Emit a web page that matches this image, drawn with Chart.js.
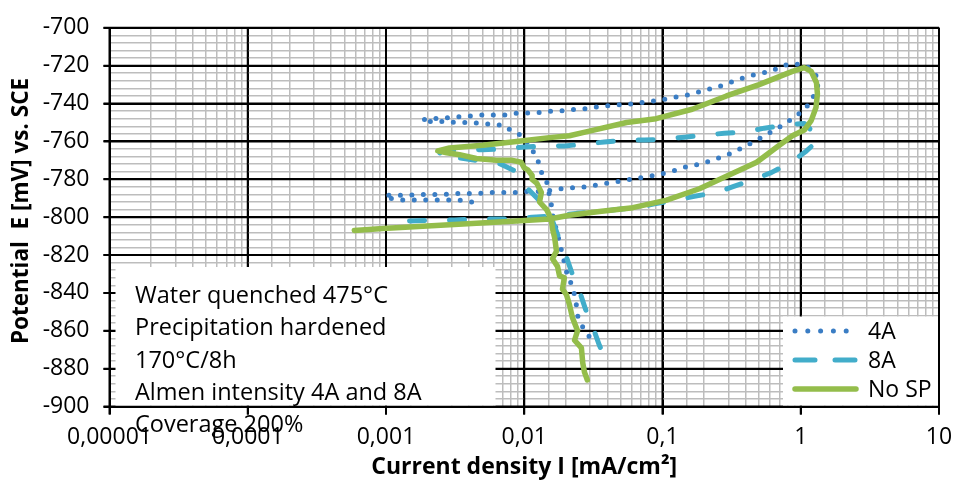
<!DOCTYPE html>
<html>
<head>
<meta charset="utf-8">
<script src="https://cdn.jsdelivr.net/npm/chart.js@4.4.0/dist/chart.umd.min.js"></script>
<style>
  html, body { margin: 0; padding: 0; background: #fff; }
  #wrap { width: 954px; height: 482px; position: relative; }
</style>
</head>
<body>
<div id="wrap"><canvas id="myChart"></canvas></div>
<script>
// current density I [mA/cm2], potential E [mV vs SCE] pairs, in scan order
const series4A = [
  [0.00416,-792],[0.00341,-791],[0.00279,-791],[0.00232,-791],[0.0019,-791],[0.00156,-791],[0.0013,-791],
  [0.00106,-790],[0.00098,-788.5],[0.0012,-788.5],[0.00144,-788.5],[0.00175,-788],[0.00214,-788],[0.00261,-788],
  [0.00319,-787.5],[0.00389,-787.5],[0.00468,-787.5],[0.00571,-787],[0.00697,-787],[0.00837,-787],[0.0104,-786.5],
  [0.0125,-786.5],[0.0152,-786],[0.0186,-785],[0.0223,-784.5],[0.0273,-784],[0.0333,-783],[0.040,-782],
  [0.0488,-781],[0.0596,-780],[0.0716,-779],[0.0874,-778],[0.1067,-776.5],[0.128,-775],[0.154,-773],
  [0.188,-772],[0.226,-770],[0.271,-768],[0.32,-766],[0.384,-763],[0.461,-760],[0.545,-757],[0.643,-754],
  [0.76,-751],[0.898,-747],[1.06,-743.5],[1.19,-738.5],[1.3,-733],[1.36,-727.5],[1.25,-724],[1.10,-720],
  [0.898,-719],[0.73,-720],[0.612,-723],[0.510,-724],[0.418,-725.5],[0.348,-727.5],[0.29,-729.6],[0.241,-731.7],
  [0.201,-733],[0.164,-735],[0.137,-736],[0.114,-737],[0.0934,-738.5],[0.0765,-739],[0.0637,-740],[0.0513,-740.5],
  [0.0427,-741],[0.035,-741.6],[0.0287,-742.6],[0.0239,-743],[0.0196,-743.7],[0.016,-744],[0.0133,-744.7],
  [0.0109,-745],[0.00894,-745],[0.00745,-746],[0.0061,-746],[0.005,-746],[0.00416,-746.5],[0.00335,-747],
  [0.00275,-747.5],[0.00225,-748],[0.00184,-748.5],[0.00184,-749.5],[0.00225,-749.5],[0.0027,-749.5],
  [0.00327,-750],[0.00397,-750],[0.00485,-750.5],[0.00585,-751],[0.00722,-751.5],[0.00823,-755],[0.0098,-757],
  [0.0114,-764.6],[0.0125,-768.7],[0.0129,-775],[0.0145,-780],[0.0147,-785],[0.0157,-791],[0.0157,-796],
  [0.0174,-809],[0.0196,-824.5],[0.0204,-830],[0.0218,-835],[0.0231,-841],[0.0239,-847],[0.0243,-852],
  [0.0265,-858],[0.0301,-864]
];
const series8A = [
  [0.00148,-802],[0.00232,-801.5],[0.00314,-801.5],[0.0045,-801],[0.0061,-801],[0.0088,-801],[0.0114,-800],
  [0.0189,-799],[0.0239,-798],[0.0362,-797],[0.0464,-796],[0.0648,-795],[0.0874,-793],[0.126,-791],[0.170,-789],
  [0.245,-787],[0.32,-784],[0.461,-780],[0.612,-776.5],[0.854,-771],[1.10,-765],[1.36,-759],[1.27,-756],
  [1.06,-750.5],[0.76,-751.5],[0.545,-753],[0.39,-755],[0.28,-755.7],[0.20,-756.7],[0.144,-757.8],[0.103,-758.8],
  [0.074,-759.3],[0.053,-759.3],[0.038,-760.3],[0.0273,-761.4],[0.0196,-762.4],[0.0136,-762.5],[0.010,-763],
  [0.007,-764],[0.005,-764.4],[0.0035,-764.5],[0.0025,-765],[0.0024,-767.5],[0.00327,-768.5],[0.0045,-770],
  [0.0063,-771],[0.0085,-775.5],[0.0104,-784.4],[0.0145,-795],[0.016,-802],[0.0174,-809],[0.0196,-818.3],
  [0.022,-829],[0.0247,-837.6],[0.0277,-848.5],[0.0311,-857.4],[0.035,-867.8],[0.040,-877]
];
const seriesNoSP = [
  [0.0286,-886],[0.0273,-882],[0.0265,-877],[0.0259,-869],[0.0231,-865],[0.0243,-860],[0.0223,-853],
  [0.0212,-846],[0.0202,-841],[0.0189,-838],[0.0195,-832],[0.018,-831],[0.0174,-826],[0.016,-822],[0.0171,-818],
  [0.0166,-811],[0.016,-806],[0.0157,-801],[0.0145,-796],[0.0129,-792],[0.0133,-787],[0.0123,-782],[0.0114,-780],
  [0.0114,-778],[0.0106,-775],[0.0100,-774],[0.0095,-771],[0.0082,-770],[0.0063,-770],[0.0045,-769],[0.0034,-767],
  [0.00275,-766],[0.00237,-765],[0.00288,-763.5],[0.0050,-762],[0.0088,-760],[0.0152,-758],[0.0212,-757],
  [0.028,-755],[0.055,-750],[0.090,-748],[0.164,-743],[0.29,-736],[0.50,-730],[0.87,-723],[1.06,-721],
  [1.19,-723],[1.30,-729],[1.32,-735],[1.29,-742],[1.19,-749],[1.06,-754],[0.87,-757],[0.70,-762],[0.48,-771],
  [0.32,-777],[0.185,-785],[0.107,-791],[0.061,-795],[0.035,-797],[0.0212,-799],[0.0152,-801],[0.0088,-802],
  [0.00288,-804],[0.00095,-806],[0.00059,-807]
];
const seriesNames = ['4A', '8A', 'No SP'];
const xTickValues = [0.00001, 0.0001, 0.001, 0.01, 0.1, 1, 10];
const xTickLabels = ['0,00001', '0,0001', '0,001', '0,01', '0,1', '1', '10'];
const yMajorValues = [-900, -880, -860, -840, -820, -800, -780, -760, -740, -720, -700];
const noteLines = ['Water quenched 475°C', 'Precipitation hardened', '170°C/8h', 'Almen intensity 4A and 8A', 'Coverage 200%'];

const FONT = '"Open Sans", "Liberation Sans", sans-serif';
const toPts = arr => arr.map(p => ({ x: p[0], y: p[1] }));
const decadeIndex = v => xTickValues.findIndex(t => Math.abs(Math.log10(v) - Math.log10(t)) < 1e-6);
const isDecade = c => c.tick && decadeIndex(c.tick.value) >= 0;
const isMajorY = c => c.tick && Math.round(c.tick.value) % 20 === 0;

const legendDash = { '4A': [0, 12.8], '8A': [20, 20], 'No SP': [] };

const boxesPlugin = {
  id: 'boxes',
  beforeDatasetsDraw(chart) {
    const g = chart.ctx, ca = chart.chartArea;
    const xs = chart.scales.x, ys = chart.scales.y;
    g.save();
    // black major grid on top of the gray minor grid
    g.strokeStyle = '#000';
    g.lineWidth = 2;
    g.beginPath();
    xTickValues.forEach(v => {
      const px = xs.getPixelForValue(v);
      g.moveTo(px, ca.top); g.lineTo(px, ca.bottom + 8);
    });
    yMajorValues.forEach(v => {
      const py = ys.getPixelForValue(v);
      g.moveTo(ca.left - 6, py); g.lineTo(ca.right, py);
    });
    g.stroke();
    // note box
    g.fillStyle = '#fff';
    g.fillRect(ca.left + 6, 267, 380, ca.bottom - 267 - 1);
    g.fillStyle = '#000';
    g.font = '23.5px ' + FONT;
    g.textBaseline = 'alphabetic';
    noteLines.forEach((t, i) => g.fillText(t, 135, 303 + i * 32.3));
    // y axis title
    g.save();
    g.translate(22, 211);
    g.rotate(-Math.PI / 2);
    g.textAlign = 'center';
    g.textBaseline = 'middle';
    g.font = 'bold 22.5px ' + FONT;
    g.fillText('Potential  E [mV] vs. SCE', 0, 0);
    g.restore();
    g.restore();
  },
  afterDatasetsDraw(chart) {
    const g = chart.ctx, ca = chart.chartArea;
    g.save();
    g.fillStyle = '#fff';
    g.fillRect(ca.right - 156, ca.bottom - 90, 155, 89);
    const rows = [331, 360, 389];
    chart.data.datasets.forEach((ds, i) => {
      g.beginPath();
      g.strokeStyle = ds.borderColor;
      g.lineWidth = ds.borderWidth;
      g.lineCap = 'round';
      g.setLineDash(legendDash[ds.label]);
      g.moveTo(795, rows[i]);
      g.lineTo(856, rows[i]);
      g.stroke();
      g.setLineDash([]);
      g.fillStyle = '#000';
      g.font = '23px ' + FONT;
      g.textBaseline = 'middle';
      g.fillText(ds.label, 868, rows[i] + 1);
    });
    g.restore();
  }
};

const ctx = document.getElementById('myChart').getContext('2d');
const myChart = new Chart(ctx, {
  type: 'scatter',
  data: {
    datasets: [
      {
        label: seriesNames[0],
        data: toPts(series4A),
        showLine: true,
        borderColor: '#3a7dc4',
        borderWidth: 5,
        borderDash: [0, 11.5],
        borderCapStyle: 'round',
        borderJoinStyle: 'round',
        pointRadius: 0,
        order: 2
      },
      {
        label: seriesNames[1],
        data: toPts(series8A),
        showLine: true,
        borderColor: '#42adca',
        borderWidth: 5,
        borderDash: [15, 25],
        borderCapStyle: 'round',
        borderJoinStyle: 'round',
        pointRadius: 0,
        order: 1
      },
      {
        label: seriesNames[2],
        data: toPts(seriesNoSP),
        showLine: true,
        borderColor: '#94bd4b',
        borderWidth: 5.5,
        borderCapStyle: 'round',
        borderJoinStyle: 'round',
        pointRadius: 0,
        order: 0
      }
    ]
  },
  options: {
    responsive: true,
    maintainAspectRatio: false,
    animation: false,
    events: [],
    layout: { padding: { top: 23, right: 15, left: 0, bottom: 0 } },
    plugins: { legend: { display: false }, tooltip: { enabled: false } },
    scales: {
      x: {
        type: 'logarithmic',
        min: 0.00001,
        max: 10,
        afterFit: s => { s.height = 75.5; s.paddingLeft = 0; s.paddingRight = 0; },
        border: { color: '#000', width: 2 },
        grid: {
          color: c => isDecade(c) ? '#000' : '#bdbdbd',
          lineWidth: c => isDecade(c) ? 2 : 1.5,
          tickColor: c => isDecade(c) ? '#000' : 'rgba(0,0,0,0)',
          tickLength: 8
        },
        ticks: {
          autoSkip: false,
          maxRotation: 0,
          padding: 9,
          color: '#000',
          font: { family: FONT, size: 23 },
          callback: v => { const i = decadeIndex(v); return i >= 0 ? xTickLabels[i] : ''; }
        },
        title: {
          display: true,
          text: 'Current density I [mA/cm²]',
          color: '#000',
          font: { family: FONT, size: 23, weight: 'bold' },
          padding: { top: 0, bottom: 1 }
        }
      },
      y: {
        min: -900,
        max: -700,
        afterFit: s => { s.width = 109.5; },
        border: { color: '#000', width: 2 },
        grid: {
          color: c => isMajorY(c) ? '#000' : '#bdbdbd',
          lineWidth: c => isMajorY(c) ? 2 : 1.5,
          tickColor: c => isMajorY(c) ? '#000' : 'rgba(0,0,0,0)',
          tickLength: 6
        },
        ticks: {
          stepSize: 4,
          autoSkip: false,
          padding: 14,
          color: '#000',
          font: { family: FONT, size: 23 },
          callback: v => Math.round(v) % 20 === 0 ? String(Math.round(v)) : ''
        },
        title: { display: false }
      }
    }
  },
  plugins: [boxesPlugin]
});
</script>
</body>
</html>
